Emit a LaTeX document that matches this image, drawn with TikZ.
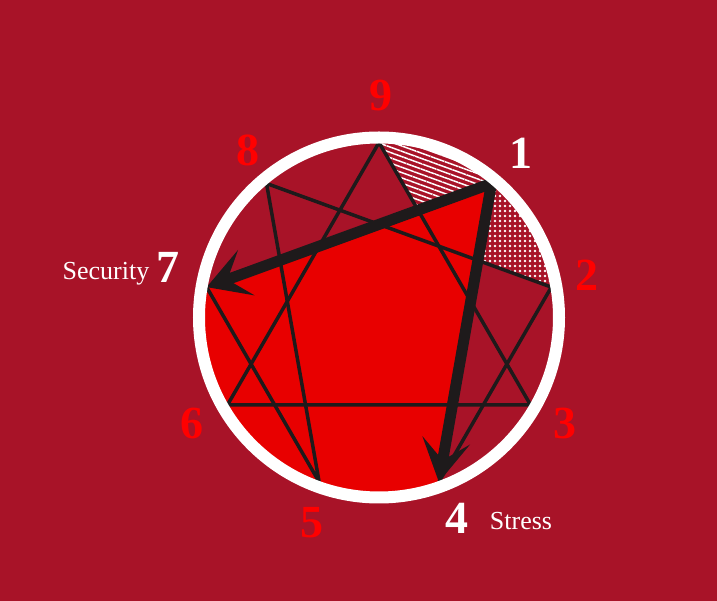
\documentclass[tikz,border=0pt]{standalone}
\usepackage{fontspec}
\setmainfont{Liberation Serif}
\usetikzlibrary{arrows.meta,patterns.meta}
\definecolor{wine}{RGB}{168,19,40}
\definecolor{brightred}{RGB}{232,0,0}
\definecolor{ink}{RGB}{30,26,27}
\begin{document}
\begin{tikzpicture}[x=1pt,y=1pt,
    >={Stealth[length=42pt,width=48pt,inset=20pt]},
    thinline/.style={ink,line width=3.5pt},
    thickline/.style={ink,line width=11pt,line join=round,<->},
    digit/.style={font=\fontsize{46}{46}\selectfont\bfseries},
    word/.style={font=\fontsize{26}{26}\selectfont,text=white,anchor=base}]
                \fill[wine] (-379,-283.5) rectangle (338,317.5);
                \useasboundingbox (-379,-283.5) rectangle (338,317.5);
                %% points
                \foreach \k in {1,...,9}
                  \coordinate (p\k) at ({90-40*\k}:175);
                %% areas
                \fill[brightred] (p7) -- (p1) -- (p4) arc[start angle=-70,end angle=-190,radius=175] -- cycle;
                \fill[pattern={Lines[angle=-20,distance=5pt,line width=1.5pt]},pattern color=white]
                  (p9) arc[start angle=90,end angle=50,radius=175] -- (intersection of p7--p1 and p9--p3) -- cycle;
                \fill[pattern={Dots[distance=5pt,radius=1.4pt]},pattern color=white]
                  (p1) arc[start angle=50,end angle=10,radius=175] -- (intersection of p2--p8 and p1--p4) -- cycle;
                %% lines
                \draw[thinline] (p9) -- (p3) -- (p6) -- cycle;
                \draw[thinline] (p4) -- (p2) -- (p8) -- (p5) -- (p7);
                \draw[thickline] (p7) -- (p1) -- (p4);
                \draw[white,line width=12pt] (0,0) circle[radius=180];
                %% numbers and words
                \foreach \k/\col/\pos in {1/white/{(142,164.5)},2/red/{(208,42.5)},3/red/{(186,-105.5)},
                    4/white/{(78,-200.5)},5/red/{(-67,-205.5)},6/red/{(-187,-105.5)},
                    7/white/{(-211,50.5)},8/red/{(-131,167.5)},9/red/{(2,221.5)}}
                  \node[digit,text=\col] (n\k) at \pos {\k};
                \node[word] (security) at (-273,37.5) {Security};
                \node[word] (stress) at (142,-211.8) {Stress};
            \end{tikzpicture}
\end{document}
